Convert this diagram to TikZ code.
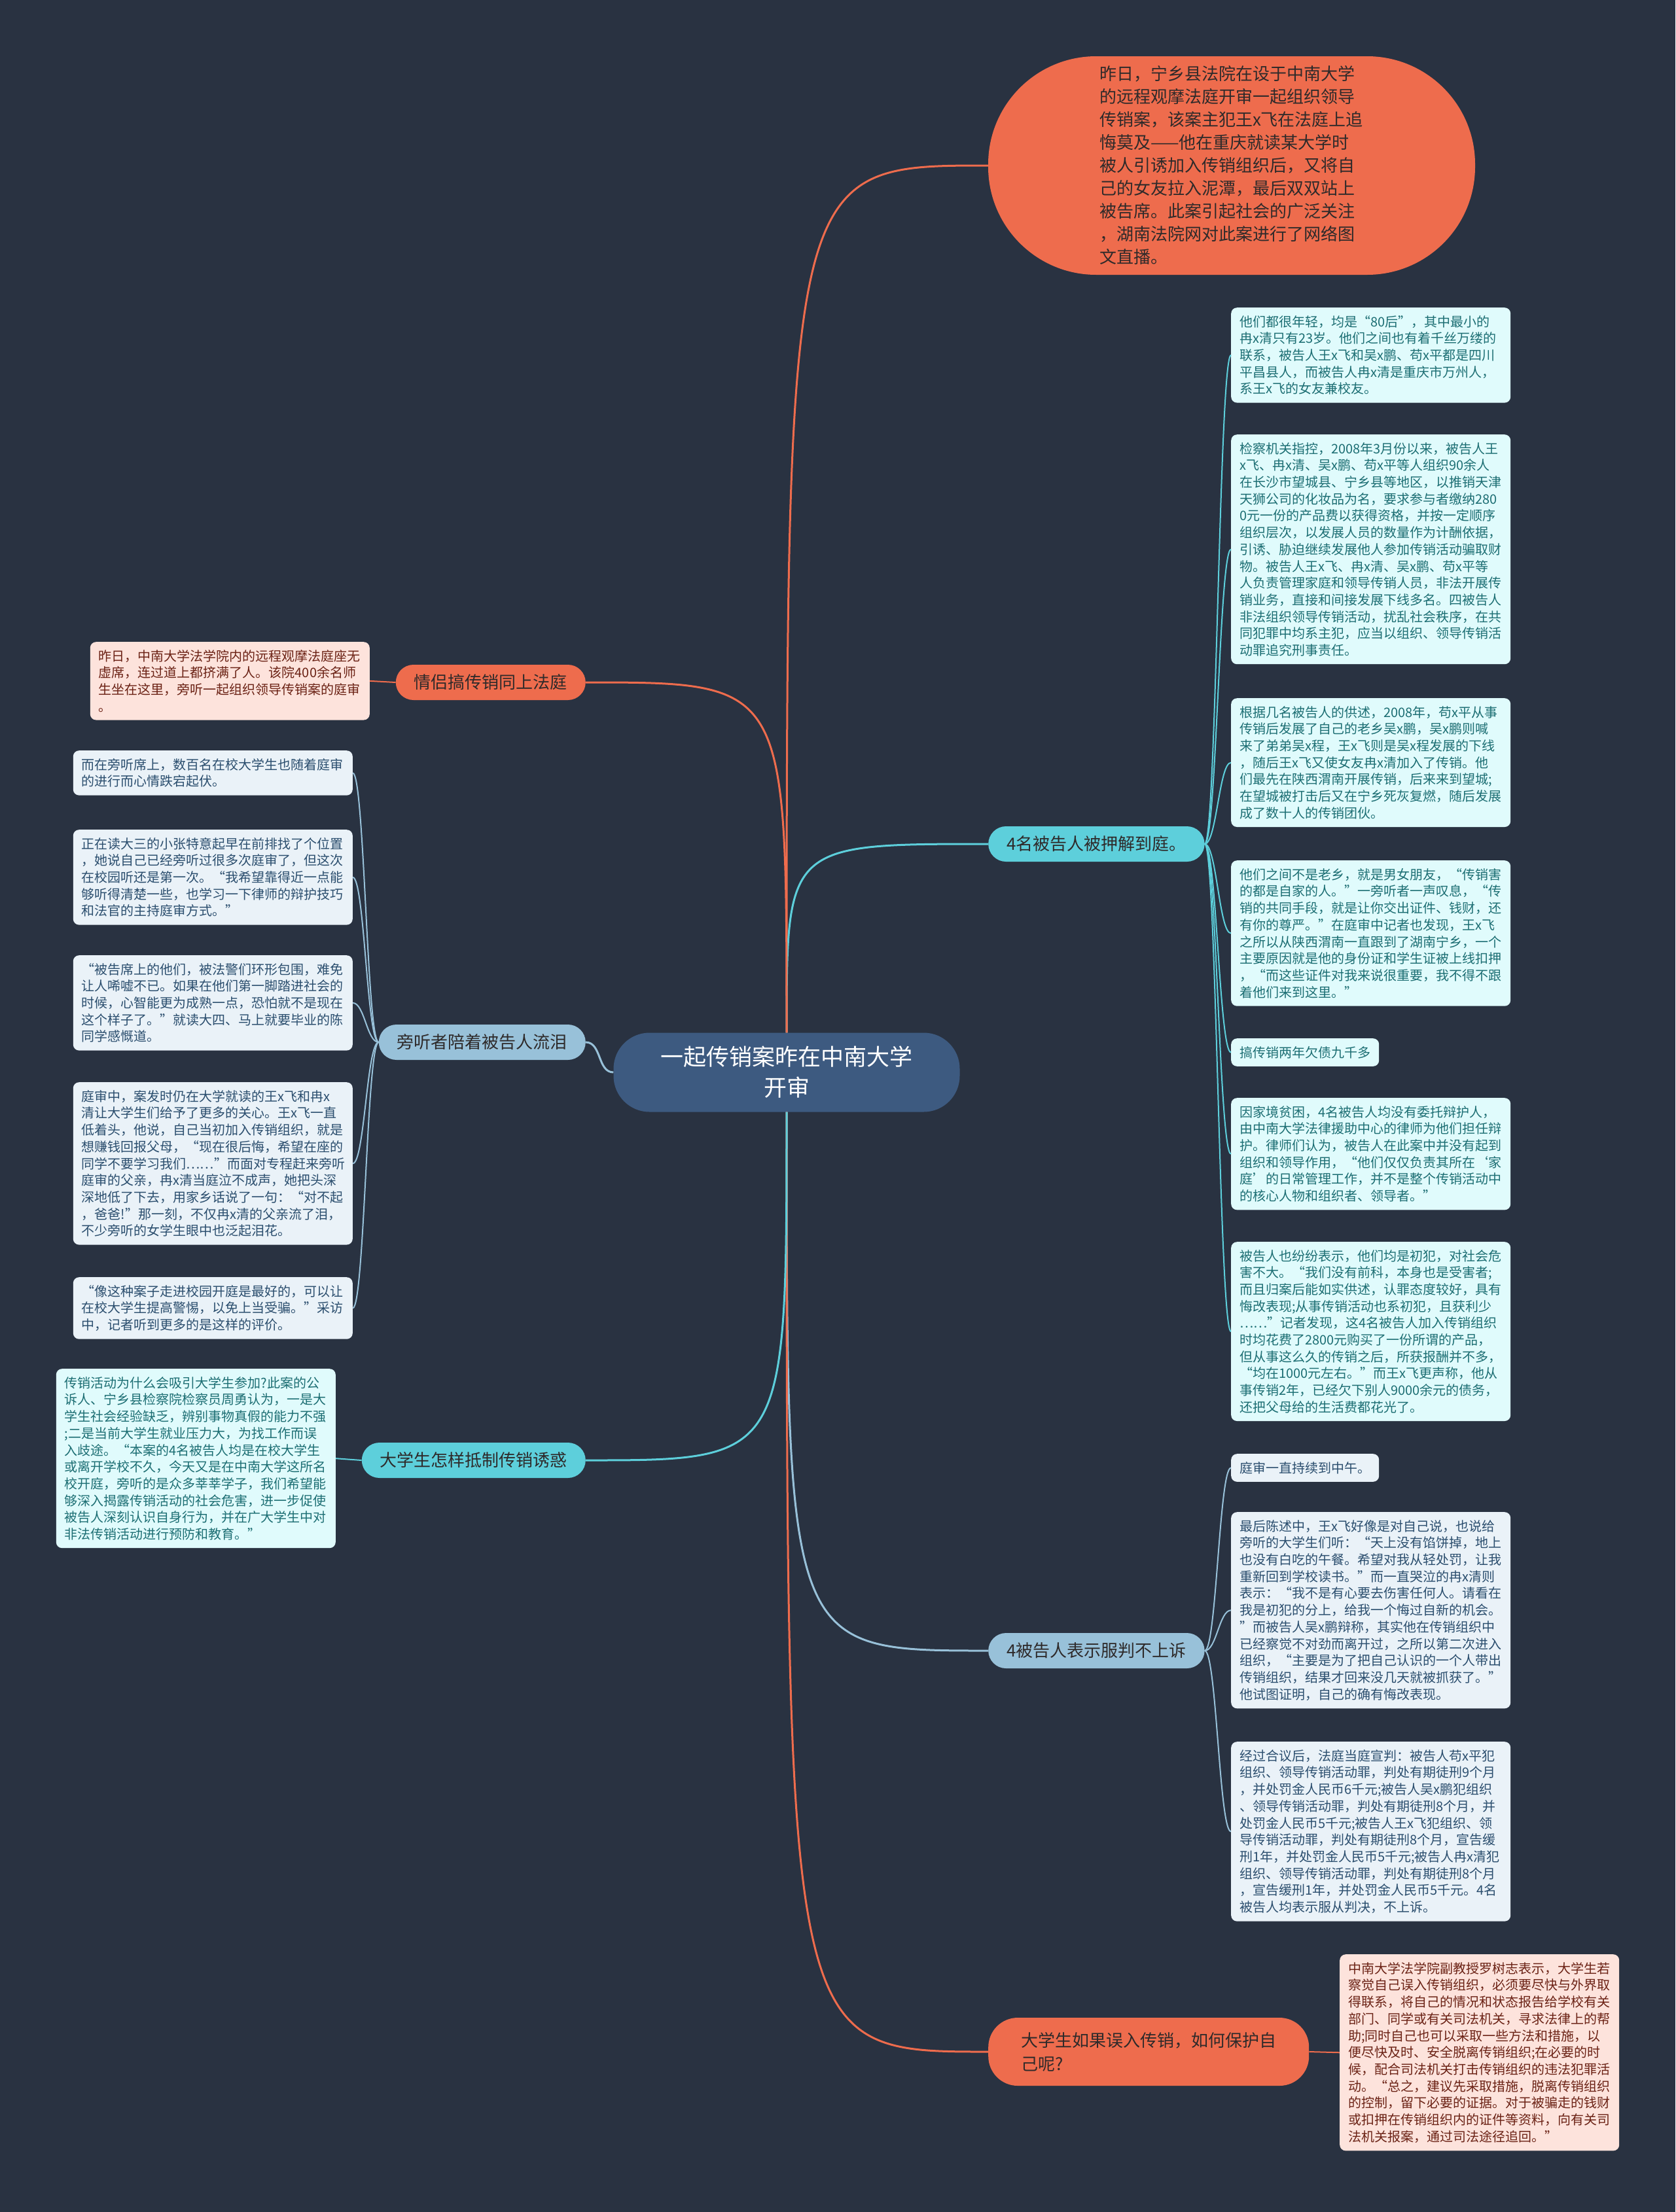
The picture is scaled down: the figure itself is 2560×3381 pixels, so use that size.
\documentclass[tikz,border=0pt]{standalone}
\usepackage{fontspec}
\setmainfont{Noto Sans CJK SC}

\definecolor{bgc}{HTML}{293241}
\definecolor{rootc}{HTML}{3D5A80}
\definecolor{orng}{HTML}{EE6C4D}
\definecolor{sky}{HTML}{98C1D9}
\definecolor{cyn}{HTML}{5DCFDB}
\definecolor{palecyn}{HTML}{E0FBFC}
\definecolor{palesky}{HTML}{EAF2F8}
\definecolor{paleorng}{HTML}{FDE3DC}
\definecolor{cyntxt}{HTML}{1C6E73}
\definecolor{skytxt}{HTML}{2B4E6E}
\definecolor{orngtxt}{HTML}{6B2215}
\definecolor{darktxt}{HTML}{2E2A2A}

\tikzstyle{every node}=[font=\fontsize{20}{25.7}\selectfont]
\tikzstyle{rootnode}=[fill=rootc, text=white, rounded corners=55pt, minimum width=529pt, minimum height=121pt, align=center, font=\fontsize{35}{47}\selectfont]
\tikzstyle{newsnode}=[fill=orng, text=darktxt, rounded corners=165pt, minimum width=744pt, minimum height=334pt, text width=404pt, align=left, font=\fontsize{26}{35}\selectfont]
\tikzstyle{branch}=[rounded corners=27pt, minimum height=54pt, inner xsep=28pt, text=darktxt, font=\fontsize{26}{36}\selectfont]
\tikzstyle{branchorng}=[branch, fill=orng]
\tikzstyle{branchsky}=[branch, fill=sky]
\tikzstyle{branchcyn}=[branch, fill=cyn]
\tikzstyle{leaf}=[rounded corners=9pt, inner xsep=13pt, inner ysep=12pt, align=left]
\tikzstyle{leafwide}=[leaf, text width=401pt]
\tikzstyle{leafcyn}=[fill=palecyn, text=cyntxt]
\tikzstyle{leafsky}=[fill=palesky, text=skytxt]
\tikzstyle{leaforng}=[fill=paleorng, text=orngtxt]
\tikzstyle{trunk}=[line width=3pt]
\tikzstyle{twig}=[line width=2pt]

\begin{document}
\begin{tikzpicture}[x=1pt,y=-1pt]
\fill[bgc] (0,0) rectangle (2560,3381);

% 中心主题
\node[rootnode] (root) at (1202,1639) {一起传销案昨在中南大学\\开审};

% 右上：新闻导语
\node[newsnode] (news) at (1882,253) {昨日，宁乡县法院在设于中南大学\\的远程观摩法庭开审一起组织领导\\传销案，该案主犯王x飞在法庭上追\\悔莫及——他在重庆就读某大学时\\被人引诱加入传销组织后，又将自\\己的女友拉入泥潭，最后双双站上\\被告席。此案引起社会的广泛关注\\，湖南法院网对此案进行了网络图\\文直播。};
\draw[trunk, orng] (root.north) .. controls (root.north |- news.west) .. (news.west);

% 右侧：4名被告人被押解到庭
\node[branchcyn, anchor=west] (fourc) at (1510,1290) {4名被告人被押解到庭。};
\node[leafwide, leafcyn, anchor=north west] (c1) at (1881,470) {他们都很年轻，均是“80后”，其中最小的\\冉x清只有23岁。他们之间也有着千丝万缕的\\联系，被告人王x飞和吴x鹏、苟x平都是四川\\平昌县人，而被告人冉x清是重庆市万州人，\\系王x飞的女友兼校友。};
\node[leafwide, leafcyn, anchor=north west] (c2) at (1881,664) {检察机关指控，2008年3月份以来，被告人王\\x飞、冉x清、吴x鹏、苟x平等人组织90余人\\在长沙市望城县、宁乡县等地区，以推销天津\\天狮公司的化妆品为名，要求参与者缴纳280\\0元一份的产品费以获得资格，并按一定顺序\\组织层次，以发展人员的数量作为计酬依据，\\引诱、胁迫继续发展他人参加传销活动骗取财\\物。被告人王x飞、冉x清、吴x鹏、苟x平等\\人负责管理家庭和领导传销人员，非法开展传\\销业务，直接和间接发展下线多名。四被告人\\非法组织领导传销活动，扰乱社会秩序，在共\\同犯罪中均系主犯，应当以组织、领导传销活\\动罪追究刑事责任。};
\node[leafwide, leafcyn, anchor=north west] (c3) at (1881,1067) {根据几名被告人的供述，2008年，苟x平从事\\传销后发展了自己的老乡吴x鹏，吴x鹏则喊\\来了弟弟吴x程，王x飞则是吴x程发展的下线\\，随后王x飞又使女友冉x清加入了传销。他\\们最先在陕西渭南开展传销，后来来到望城;\\在望城被打击后又在宁乡死灰复燃，随后发展\\成了数十人的传销团伙。};
\node[leafwide, leafcyn, anchor=north west] (c4) at (1881,1315) {他们之间不是老乡，就是男女朋友，“传销害\\的都是自家的人。”一旁听者一声叹息，“传\\销的共同手段，就是让你交出证件、钱财，还\\有你的尊严。”在庭审中记者也发现，王x飞\\之所以从陕西渭南一直跟到了湖南宁乡，一个\\主要原因就是他的身份证和学生证被上线扣押\\，“而这些证件对我来说很重要，我不得不跟\\着他们来到这里。”};
\node[leaf, leafcyn, anchor=north west] (c5) at (1881,1587) {搞传销两年欠债九千多};
\node[leafwide, leafcyn, anchor=north west] (c6) at (1881,1678) {因家境贫困，4名被告人均没有委托辩护人，\\由中南大学法律援助中心的律师为他们担任辩\\护。律师们认为，被告人在此案中并没有起到\\组织和领导作用，“他们仅仅负责其所在‘家\\庭’的日常管理工作，并不是整个传销活动中\\的核心人物和组织者、领导者。”};
\node[leafwide, leafcyn, anchor=north west] (c7) at (1881,1898) {被告人也纷纷表示，他们均是初犯，对社会危\\害不大。“我们没有前科，本身也是受害者;\\而且归案后能如实供述，认罪态度较好，具有\\悔改表现;从事传销活动也系初犯，且获利少\\……”记者发现，这4名被告人加入传销组织\\时均花费了2800元购买了一份所谓的产品，\\但从事这么久的传销之后，所获报酬并不多，\\“均在1000元左右。”而王x飞更声称，他从\\事传销2年，已经欠下别人9000余元的债务，\\还把父母给的生活费都花光了。};
\draw[trunk, cyn] (root.north) .. controls (root.north |- fourc.west) .. (fourc.west);
\draw[twig, cyn] (fourc.east) .. controls +(18,0) and +(-18,0) .. (c1.west);
\draw[twig, cyn] (fourc.east) .. controls +(18,0) and +(-18,0) .. (c2.west);
\draw[twig, cyn] (fourc.east) .. controls +(18,0) and +(-18,0) .. (c3.west);
\draw[twig, cyn] (fourc.east) .. controls +(18,0) and +(-18,0) .. (c4.west);
\draw[twig, cyn] (fourc.east) .. controls +(18,0) and +(-18,0) .. (c5.west);
\draw[twig, cyn] (fourc.east) .. controls +(18,0) and +(-18,0) .. (c6.west);
\draw[twig, cyn] (fourc.east) .. controls +(18,0) and +(-18,0) .. (c7.west);

% 右侧：4被告人表示服判不上诉
\node[branchsky, anchor=west] (judge) at (1510,2523) {4被告人表示服判不上诉};
\node[leaf, leafsky, anchor=north west] (j1) at (1881,2222) {庭审一直持续到中午。};
\node[leafwide, leafsky, anchor=north west] (j2) at (1881,2311) {最后陈述中，王x飞好像是对自己说，也说给\\旁听的大学生们听：“天上没有馅饼掉，地上\\也没有白吃的午餐。希望对我从轻处罚，让我\\重新回到学校读书。”而一直哭泣的冉x清则\\表示：“我不是有心要去伤害任何人。请看在\\我是初犯的分上，给我一个悔过自新的机会。\\”而被告人吴x鹏辩称，其实他在传销组织中\\已经察觉不对劲而离开过，之所以第二次进入\\组织，“主要是为了把自己认识的一个人带出\\传销组织，结果才回来没几天就被抓获了。”\\他试图证明，自己的确有悔改表现。};
\node[leafwide, leafsky, anchor=north west] (j3) at (1881,2662) {经过合议后，法庭当庭宣判：被告人苟x平犯\\组织、领导传销活动罪，判处有期徒刑9个月\\，并处罚金人民币6千元;被告人吴x鹏犯组织\\、领导传销活动罪，判处有期徒刑8个月，并\\处罚金人民币5千元;被告人王x飞犯组织、领\\导传销活动罪，判处有期徒刑8个月，宣告缓\\刑1年，并处罚金人民币5千元;被告人冉x清犯\\组织、领导传销活动罪，判处有期徒刑8个月\\，宣告缓刑1年，并处罚金人民币5千元。4名\\被告人均表示服从判决，不上诉。};
\draw[trunk, sky] (root.south) .. controls (root.south |- judge.west) .. (judge.west);
\draw[twig, sky] (judge.east) .. controls +(18,0) and +(-18,0) .. (j1.west);
\draw[twig, sky] (judge.east) .. controls +(18,0) and +(-18,0) .. (j2.west);
\draw[twig, sky] (judge.east) .. controls +(18,0) and +(-18,0) .. (j3.west);

% 右下：如何保护自己
\node[branchorng, anchor=west, align=left, inner xsep=50pt, minimum height=104pt, rounded corners=45pt] (protect) at (1510,3136) {大学生如果误入传销，如何保护自\\己呢?};
\node[leafwide, leaforng, anchor=north west] (p1) at (2047,2987) {中南大学法学院副教授罗树志表示，大学生若\\察觉自己误入传销组织，必须要尽快与外界取\\得联系，将自己的情况和状态报告给学校有关\\部门、同学或有关司法机关，寻求法律上的帮\\助;同时自己也可以采取一些方法和措施，以\\便尽快及时、安全脱离传销组织;在必要的时\\候，配合司法机关打击传销组织的违法犯罪活\\动。“总之，建议先采取措施，脱离传销组织\\的控制，留下必要的证据。对于被骗走的钱财\\或扣押在传销组织内的证件等资料，向有关司\\法机关报案，通过司法途径追回。”};
\draw[trunk, orng] (root.south) .. controls (root.south |- protect.west) .. (protect.west);
\draw[twig, orng] (protect.east) -- (p1.west);

% 左侧：情侣搞传销同上法庭
\node[branchorng, anchor=east] (couple) at (895,1043) {情侣搞传销同上法庭};
\node[leafwide, leaforng, anchor=north east] (o1) at (565,981) {昨日，中南大学法学院内的远程观摩法庭座无\\虚席，连过道上都挤满了人。该院400余名师\\生坐在这里，旁听一起组织领导传销案的庭审\\。};
\draw[trunk, orng] (couple.east) .. controls (root.north |- couple.east) .. (root.north);
\draw[twig, orng] (couple.west) -- (o1.east);

% 左侧：旁听者陪着被告人流泪
\node[branchsky, anchor=east] (audience) at (895,1593) {旁听者陪着被告人流泪};
\node[leafwide, leafsky, anchor=north east] (b1) at (539,1147) {而在旁听席上，数百名在校大学生也随着庭审\\的进行而心情跌宕起伏。};
\node[leafwide, leafsky, anchor=north east] (b2) at (539,1268) {正在读大三的小张特意起早在前排找了个位置\\，她说自己已经旁听过很多次庭审了，但这次\\在校园听还是第一次。“我希望靠得近一点能\\够听得清楚一些，也学习一下律师的辩护技巧\\和法官的主持庭审方式。”};
\node[leafwide, leafsky, anchor=north east] (b3) at (539,1460) {“被告席上的他们，被法警们环形包围，难免\\让人唏嘘不已。如果在他们第一脚踏进社会的\\时候，心智能更为成熟一点，恐怕就不是现在\\这个样子了。”就读大四、马上就要毕业的陈\\同学感慨道。};
\node[leafwide, leafsky, anchor=north east] (b4) at (539,1654) {庭审中，案发时仍在大学就读的王x飞和冉x\\清让大学生们给予了更多的关心。王x飞一直\\低着头，他说，自己当初加入传销组织，就是\\想赚钱回报父母，“现在很后悔，希望在座的\\同学不要学习我们……”而面对专程赶来旁听\\庭审的父亲，冉x清当庭泣不成声，她把头深\\深地低了下去，用家乡话说了一句：“对不起\\，爸爸!”那一刻，不仅冉x清的父亲流了泪，\\不少旁听的女学生眼中也泛起泪花。};
\node[leafwide, leafsky, anchor=north east] (b5) at (539,1952) {“像这种案子走进校园开庭是最好的，可以让\\在校大学生提高警惕，以免上当受骗。”采访\\中，记者听到更多的是这样的评价。};
\draw[trunk, sky] (audience.east) to[out=0,in=180] (root.west);
\draw[twig, sky] (audience.west) .. controls +(-18,0) and +(18,0) .. (b1.east);
\draw[twig, sky] (audience.west) .. controls +(-18,0) and +(18,0) .. (b2.east);
\draw[twig, sky] (audience.west) .. controls +(-18,0) and +(18,0) .. (b3.east);
\draw[twig, sky] (audience.west) .. controls +(-18,0) and +(18,0) .. (b4.east);
\draw[twig, sky] (audience.west) .. controls +(-18,0) and +(18,0) .. (b5.east);

% 左侧：大学生怎样抵制传销诱惑
\node[branchcyn, anchor=east] (resist) at (895,2232) {大学生怎样抵制传销诱惑};
\node[leafwide, leafcyn, anchor=north east] (r1) at (513,2092) {传销活动为什么会吸引大学生参加?此案的公\\诉人、宁乡县检察院检察员周勇认为，一是大\\学生社会经验缺乏，辨别事物真假的能力不强\\;二是当前大学生就业压力大，为找工作而误\\入歧途。“本案的4名被告人均是在校大学生\\或离开学校不久，今天又是在中南大学这所名\\校开庭，旁听的是众多莘莘学子，我们希望能\\够深入揭露传销活动的社会危害，进一步促使\\被告人深刻认识自身行为，并在广大学生中对\\非法传销活动进行预防和教育。”};
\draw[trunk, cyn] (resist.east) .. controls (root.south |- resist.east) .. (root.south);
\draw[twig, cyn] (resist.west) -- (r1.east);
\end{tikzpicture}
\end{document}
